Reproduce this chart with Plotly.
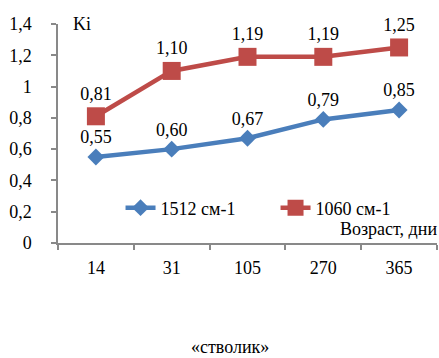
import plotly.graph_objects as go

categories = ["14", "31", "105", "270", "365"]
s1_name = "1512 см-1"
s1_values = [0.55, 0.60, 0.67, 0.79, 0.85]
s2_name = "1060 см-1"
s2_values = [0.81, 1.10, 1.19, 1.19, 1.25]
y_ticks = [0, 0.2, 0.4, 0.6, 0.8, 1, 1.2, 1.4]

FONT = "Liberation Serif, Times New Roman, serif"
W, H = 439, 358
ml, mr, mt, mb = 58, 2, 24, 115

fig = go.Figure()
fig.add_trace(go.Scatter(
    x=categories, y=s1_values, name=s1_name, mode="lines+markers+text",
    line=dict(color="#4A7EBB", width=4.5),
    marker=dict(symbol="diamond", size=13, color="#4A7EBB"),
    texttemplate="%{y:.2f}", textposition="top center", cliponaxis=False,
    textfont=dict(family=FONT, size=18, color="black"),
))
fig.add_trace(go.Scatter(
    x=categories, y=s2_values, name=s2_name, mode="lines+markers+text",
    line=dict(color="#BE4B48", width=4.5),
    marker=dict(symbol="square", size=18, color="#BE4B48"),
    texttemplate="%{y:.2f}", textposition="top center", cliponaxis=False,
    textfont=dict(family=FONT, size=18, color="black"),
))

fig.update_layout(
    width=W, height=H,
    margin=dict(l=ml, r=mr, t=mt, b=mb, pad=0),
    paper_bgcolor="white", plot_bgcolor="white",
    separators=", ",
    font=dict(family=FONT, size=18, color="black"),
    showlegend=True,
    legend=dict(orientation="h", x=0.165, y=0.16, xanchor="left", yanchor="middle",
                font=dict(family=FONT, size=18, color="black"),
                bgcolor="rgba(0,0,0,0)", itemwidth=30, tracegroupgap=0,
                entrywidth=110),
    xaxis=dict(
        type="category", showgrid=False, showline=True, linecolor="#898989", linewidth=1.5,
        ticks="outside", ticklen=5, tickcolor="#898989", tickwidth=1.5, tickson="boundaries",
        ticklabelstandoff=8, range=[-0.5, 4.5],
        tickfont=dict(family=FONT, size=18),
    ),
    yaxis=dict(
        range=[0, 1.4], tickvals=y_ticks, showgrid=False, showline=True,
        linecolor="#898989", linewidth=1.5, ticks="outside", ticklen=5,
        tickcolor="#898989", tickwidth=1.5, ticklabelstandoff=16, zeroline=False,
        tickfont=dict(family=FONT, size=18),
    ),
    annotations=[
        dict(text="Ki", xref="paper", yref="paper", x=0.035, y=1.0,
             xanchor="left", yanchor="middle", showarrow=False,
             font=dict(family=FONT, size=18)),
        dict(text="Возраст, дни", xref="paper", yref="paper", x=1.005, y=0.065,
             xanchor="right", yanchor="middle", showarrow=False,
             font=dict(family=FONT, size=18)),
        dict(text="«стволик»", xref="paper", yref="paper", x=0.455, y=-0.42,
             xanchor="center", yanchor="top", showarrow=False,
             font=dict(family=FONT, size=18)),
    ],
)

fig.write_html("out.html")
